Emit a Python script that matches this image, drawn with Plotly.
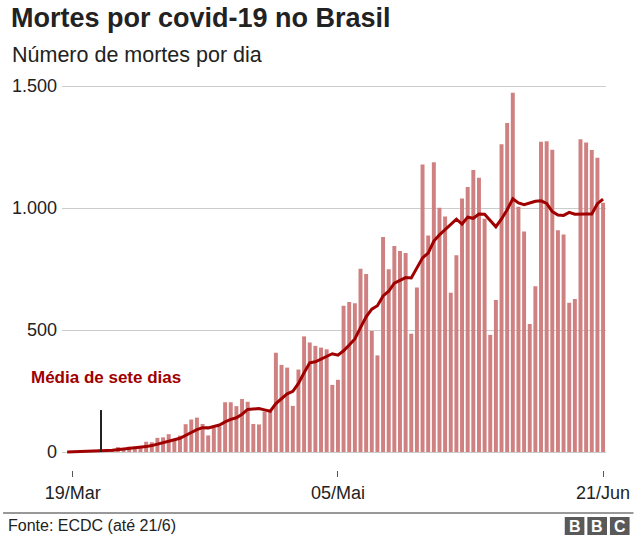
import plotly.graph_objects as go
import pandas as pd

# ---- data ----
start_date = "2020-03-19"
deaths = [3, 2, 5, 7, 7, 9, 12, 11, 20, 15, 22, 22, 23,
          42, 40, 58, 60, 73, 54, 67, 114, 133, 141, 115, 68, 99, 105, 204, 204, 188,
          217, 206, 115, 113, 166, 165, 407, 357, 346, 189, 338, 474, 449,
          435, 428, 421, 275, 296, 600, 615, 610, 751, 730, 496, 396, 881, 749, 844,
          824, 816, 485, 674, 1179, 888, 1188, 1001, 965, 653, 807, 1039, 1086, 1156,
          1124, 956, 480, 623, 1262, 1349, 1473, 1005, 904, 525, 679, 1272, 1274, 1239,
          909, 892, 612, 627, 1282, 1269, 1238, 1206, 1022]
avg_start_date = "2020-03-18"
avg7 = [0.1, 0.6, 0.9, 1.6, 2.6, 3.6, 4.9, 6.4, 7.6, 10.1, 11.6, 13.7, 15.9, 17.9,
        22.1, 26.3, 31.7, 38.1, 45.4, 50.0, 56.3, 66.6, 79.9, 91.7, 99.6, 98.9, 105.3,
        110.7, 123.6, 133.7, 140.4, 155.0, 174.7, 177.0, 178.1, 172.7, 167.1, 198.4,
        218.4, 238.4, 249.0, 281.1, 325.1, 365.7, 369.7, 379.9, 390.6, 402.9, 396.9,
        414.9, 438.6, 463.6, 509.7, 553.9, 585.4, 599.7, 639.9, 659.0, 692.4, 702.9,
        715.1, 713.6, 753.3, 795.9, 815.7, 864.9, 890.1, 911.4, 935.4, 954.4, 934.4,
        962.7, 958.1, 975.7, 974.4, 949.7, 923.4, 955.3, 992.9, 1038.1, 1021.1, 1013.7,
        1020.1, 1028.1, 1029.6, 1018.9, 985.4, 971.7, 970.0, 982.4, 975.0, 976.4,
        975.7, 975.6, 1018.0, 1036.6]
x_tick_dates = ["2020-03-19", "2020-05-05", "2020-06-21"]
x_tick_labels = ["19/Mar", "05/Mai", "21/Jun"]
y_tick_vals = [0, 500, 1000, 1500]
y_tick_labels = ["0", "500", "1.000", "1.500"]
marker_date = "2020-03-24"
marker_top = 172

dates = pd.date_range(start_date, periods=len(deaths), freq="D")
avg_dates = pd.date_range(avg_start_date, periods=len(avg7), freq="D")

# ---- layout geometry ----
W, H = 642, 540
ML, MR, MT, MB = 60, 28, 80, 70
PW, PH = W - ML - MR, H - MT - MB

def px(x):
    return (x - ML) / PW

def py(y):
    return (H - MB - y) / PH

FONT = "Liberation Sans, Arial, Helvetica, sans-serif"

fig = go.Figure()
fig.add_trace(go.Bar(x=dates, y=deaths, marker=dict(color="#cf8080", line=dict(width=0)),
                     hoverinfo="skip"))
fig.add_trace(go.Scatter(x=avg_dates, y=avg7, mode="lines",
                         line=dict(color="#a00000", width=3), hoverinfo="skip"))

fig.add_shape(type="line", xref="x", yref="y", x0=marker_date, x1=marker_date,
              y0=0, y1=marker_top, line=dict(color="#222222", width=2))

annotations = [
    dict(text="<b>Mortes por covid-19 no Brasil</b>", x=px(6), y=py(18), xanchor="left",
         yanchor="middle", font=dict(size=27, color="#222222")),
    dict(text="Número de mortes por dia", x=px(7), y=py(55), xanchor="left",
         yanchor="middle", font=dict(size=21.5, color="#222222")),
    dict(text="<b>Média de sete dias</b>", x=px(26), y=py(377), xanchor="left",
         yanchor="middle", font=dict(size=17, color="#a00000")),
    dict(text="Fonte: ECDC (até 21/6)", x=px(3), y=py(525), xanchor="left",
         yanchor="middle", font=dict(size=16, color="#222222")),
]
for i, letter in enumerate(["B", "B", "C"]):
    x0 = 572 + i * 23
    fig.add_shape(type="rect", xref="paper", yref="paper", x0=px(x0), x1=px(x0 + 20),
                  y0=py(535), y1=py(517), fillcolor="#595959", line=dict(width=0))
    annotations.append(dict(text="<b>%s</b>" % letter, x=px(x0 + 10), y=py(526),
                            xanchor="center", yanchor="middle",
                            font=dict(size=16, color="white")))
fig.add_shape(type="line", xref="paper", yref="paper", x0=px(0), x1=px(W),
              y0=py(513), y1=py(513), line=dict(color="#333333", width=1))

for a in annotations:
    a.update(xref="paper", yref="paper", showarrow=False)

fig.update_layout(
    width=W, height=H, margin=dict(l=ML, r=MR, t=MT, b=MB),
    paper_bgcolor="white", plot_bgcolor="white",
    font=dict(family=FONT, color="#222222"),
    showlegend=False, bargap=0.3,
    annotations=annotations,
    xaxis=dict(type="date", range=["2020-03-17 02:00", "2020-06-21 12:30"],
               tickvals=x_tick_dates, ticktext=x_tick_labels,
               showgrid=False, zeroline=False, showline=False,
               ticks="outside", ticklen=6, tickcolor="#555555", tickwidth=1,
               tickfont=dict(size=18, color="#222222")),
    yaxis=dict(range=[-73.8, 1525], tickvals=y_tick_vals, ticktext=y_tick_labels,
               showgrid=True, gridcolor="#cccccc", gridwidth=1,
               zeroline=True, zerolinecolor="#cccccc", zerolinewidth=1,
               showline=False, ticks="", ticklabelstandoff=4,
               tickfont=dict(size=18, color="#222222")),
)

fig.write_html("out.html")
